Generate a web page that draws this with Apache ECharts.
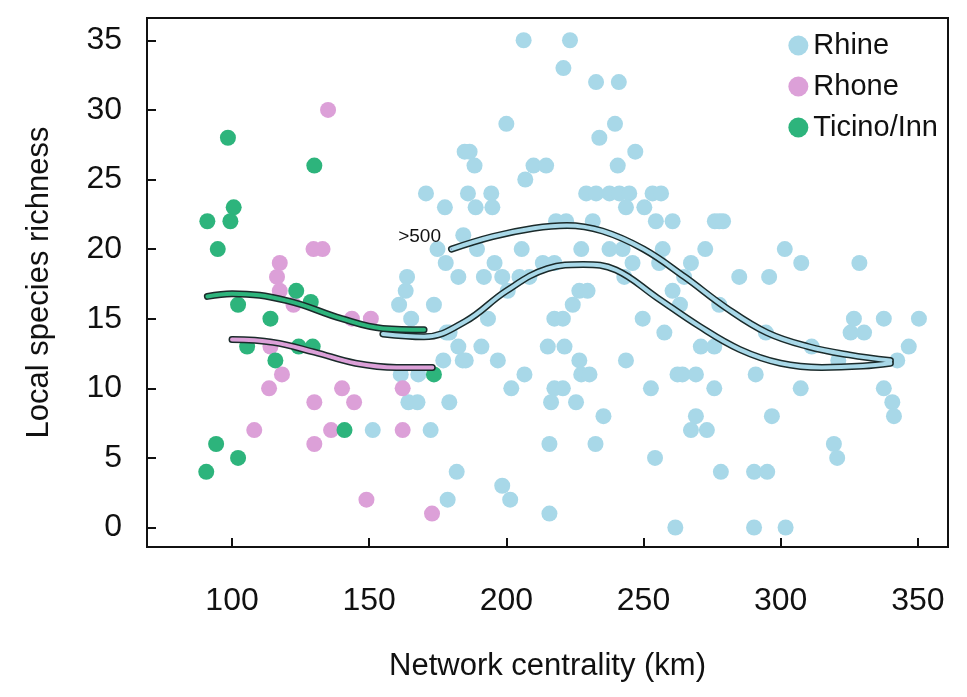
<!DOCTYPE html>
<html><head><meta charset="utf-8">
<script src="https://cdn.jsdelivr.net/npm/echarts@6/dist/echarts.min.js"></script>
<style>html,body{margin:0;background:#fff}#c{width:967px;height:697px}</style>
</head><body><div id="c"></div>
<script>
var xTicks = [100, 150, 200, 250, 300, 350];
var yTicks = [0, 5, 10, 15, 20, 25, 30, 35];

var rhine = [
 [170.7,24],[184.8,27],[177.6,23],[184.3,21],[174.9,20],[177.9,19],[182.5,18],[163.8,18],[163.3,17],[160.9,16],
 [173.6,16],[165.3,15],[178.2,14],[182.5,13],[184.1,12],[177,12],[161.5,11],[167.9,11],[164.3,9],[167.6,9],
 [179.2,9],[151.3,7],[172.4,7],[181.9,4],[178.6,2],
 [206.3,35],[223.2,35],[220.8,33],[232.7,32],[241,32],[200,29],[239.6,29],[233.9,28],[186.6,27],[188.4,26],
 [247,27],[240.6,26],[209.9,26],[214.5,26],[206.9,25],[186,24],[194.5,24],[188.8,23],[194.9,23],
 [229.1,24],[232.7,24],[237.6,24],[241.2,24],[244.8,24],[243.6,23],[250.3,23],[253.3,24],[256.4,24],
 [254.5,22],[260.6,22],[218.1,22],[221.8,22],[231.5,22],[189.3,20],[205.6,20],[227.3,20],[237.6,20],
 [242.4,20],[257,20],[195.7,19],[213.3,19],[217.5,19],[246,19],[255.7,19],[191.8,18],[198.5,18],
 [204.8,18],[208.4,18],[243,18],[200.5,17],[226.6,17],[229.6,17],[260.6,17],[224.2,16],[193.3,15],
 [217.5,15],[220.6,15],[249.7,15],[179.3,14],[257.6,14],[190.9,13],[215.1,13],[221.2,13],[196.9,12],
 [185.2,12],[226.6,12],[243.6,12],[206.6,11],[227.3,11],[230.3,11],[262.4,11],[201.8,10],[217.5,10],
 [220.6,10],[252.7,10],[216.3,9],[225.4,9],[235.4,8],[215.7,6],[232.5,6],[254.2,5],[198.5,3],[201.4,2],
 [215.7,1],[261.6,0],
 [277.6,22],[276,22],[279,22],[272.5,20],[301.5,20],[267.3,19],[307.5,19],[328.7,19],[284.9,18],[295.8,18],
 [264.8,18],[263.3,16],[277.6,16],[326.7,15],[337.6,15],[350.4,15],[294.6,14],[325.5,14],[330.4,14],
 [270.9,13],[275.8,13],[311.3,13],[346.7,13],[321,12],[342.5,12],[264.2,11],[269.1,11],[290.9,11],
 [275.8,10],[307.3,10],[337.6,10],[340.7,9],[341.3,8],[269.1,8],[296.8,8],[267.3,7],[273.1,7],[319.4,6],
 [320.6,5],[278.2,4],[290.3,4],[295.1,4],[290.3,0],[301.8,0]
];
var rhone = [
 [135,30],[129.7,20],[133,20],[117.4,19],[116.4,18],[117.4,17],[122.4,16],[143.7,15],[150.6,15],[114,13],
 [118.2,11],[113.5,10],[140.1,10],[162.2,10],[130,9],[144.5,9],[108.1,7],[136.1,7],[162.2,7],[130,6],
 [149,2],[172.9,1]
];
var ticino = [
 [98.5,28],[130,26],[100.6,23],[91,22],[99.4,22],[94.8,20],[123.4,17],[102.2,16],[128.7,16.2],[114,15],
 [105.5,13],[124.3,13],[129.4,13],[115.8,12],[173.6,11],[141,7],[94.2,6],[102.2,5],[90.6,4]
];
var fitTicino = [[91,16.6],[100,16.8],[120,16.3],[140,15],[155,14.3],[170,14.2]];
var fitRhone = [[100,13.5],[115,13.3],[130,12.6],[145,11.8],[160,11.5],[173,11.5]];
var fitRhine = [[155,13.9],[170,13.7],[185,14.8],[200,17],[215,18.6],[228,18.9],[240,18.5],[255,16.5],
 [270,14.5],[285,12.8],[300,11.8],[315,11.5],[330,11.6],[340,11.8]];
var fitRhine500 = [[180,20],[195,20.9],[210,21.5],[222,21.7],[235,21.3],[250,20],[265,18],[280,15.8],
 [295,14],[310,13],[325,12.4],[340,12.0]];

var cRhine = '#a8d8e8', cRhone = '#dca0d8', cTicino = '#2db47c';
function pts(name, data, color) {
  return {name: name, type: 'scatter', data: data, symbolSize: 16, itemStyle: {color: color, opacity: 1}, z: 2};
}
function fit(data, color, lab) {
  var s = [
    {type: 'line', data: data, smooth: 0.4, symbol: 'none', lineStyle: {color: '#1a2a2a', width: 7, cap: 'round'}, z: 3, silent: true},
    {type: 'line', data: data, smooth: 0.4, symbol: 'none', lineStyle: {color: color, width: 4, cap: 'round'}, z: 4, silent: true}
  ];
  if (lab) s[1].markPoint = {symbol: 'circle', symbolSize: 1, data: [{coord: data[0], label: {show: true, formatter: lab, position: 'left', distance: 10, offset: [0, -12], color: '#111', fontSize: 19}}]};
  return s;
}
var font = 'Liberation Sans, Arial, sans-serif';
var chart = echarts.init(document.getElementById('c'));
chart.setOption({
  animation: false,
  textStyle: {fontFamily: font},
  grid: {left: 147, right: 19, top: 18, bottom: 150, show: true, borderColor: '#111', borderWidth: 2},
  legend: {
    data: ['Rhine', 'Rhone', 'Ticino/Inn'], orient: 'vertical', right: 24, top: 26, itemGap: 12,
    itemWidth: 20, itemHeight: 20, textStyle: {fontSize: 29, color: '#111'}
  },
  xAxis: {
    type: 'value', min: 69, max: 361, name: 'Network centrality (km)', nameLocation: 'middle', nameGap: 104,
    nameTextStyle: {fontSize: 31, color: '#111'}, splitLine: {show: false},
    axisLine: {onZero: false, lineStyle: {color: '#111', width: 2}},
    axisTick: {show: true, inside: true, length: 9, lineStyle: {color: '#111', width: 2}, customValues: xTicks},
    axisLabel: {fontSize: 32, color: '#111', margin: 38, customValues: xTicks}
  },
  yAxis: {
    type: 'value', min: -1.4, max: 36.6, name: 'Local species richness', nameLocation: 'middle', nameGap: 92,
    nameTextStyle: {fontSize: 31, color: '#111'}, splitLine: {show: false},
    axisLine: {onZero: false, lineStyle: {color: '#111', width: 2}},
    axisTick: {show: true, inside: true, length: 9, lineStyle: {color: '#111', width: 2}, customValues: yTicks},
    axisLabel: {fontSize: 32, color: '#111', margin: 25, customValues: yTicks}
  },
  series: [pts('Rhine', rhine, cRhine), pts('Rhone', rhone, cRhone), pts('Ticino/Inn', ticino, cTicino)]
    .concat(fit(fitTicino, cTicino), fit(fitRhone, cRhone), fit(fitRhine, cRhine), fit(fitRhine500, cRhine, '>500'))
});
</script></body></html>
